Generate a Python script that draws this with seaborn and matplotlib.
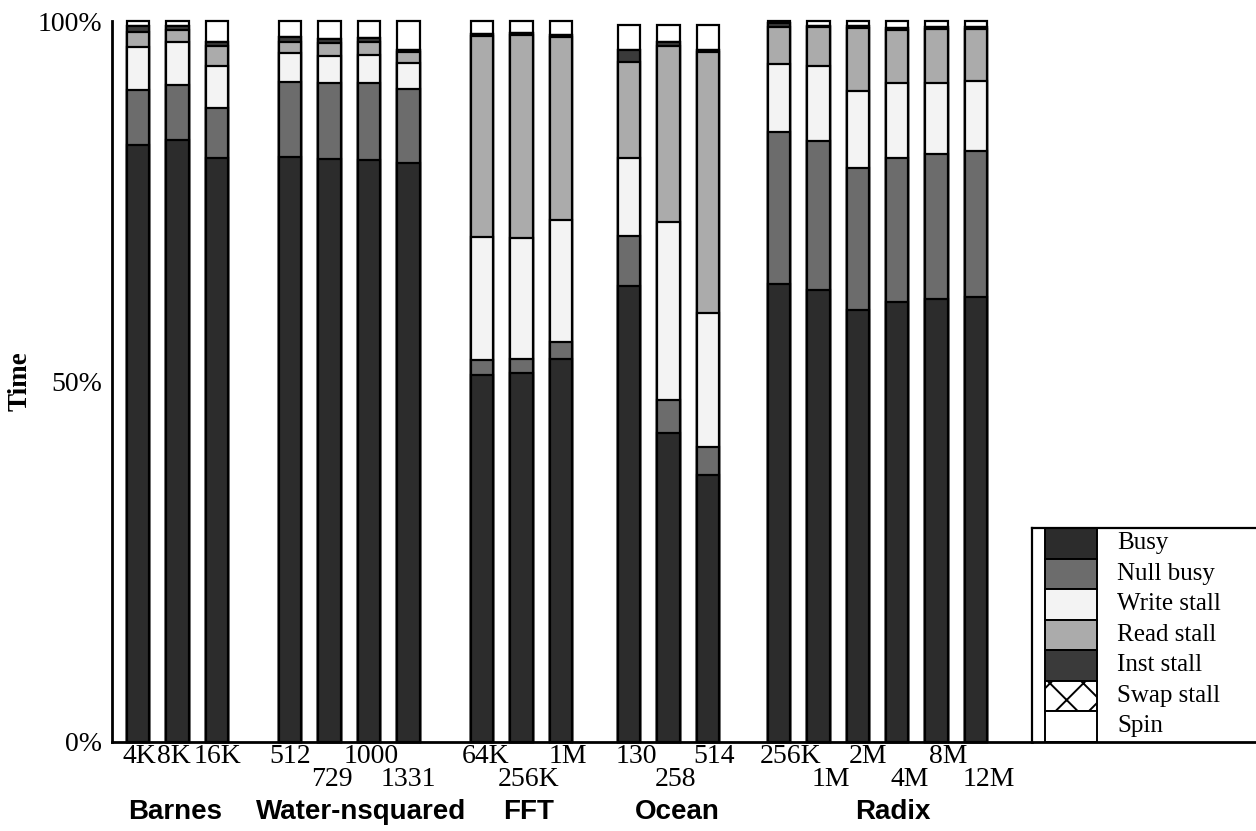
import numpy as np
import matplotlib
matplotlib.use("Agg")
import matplotlib.pyplot as plt
import seaborn as sns

# benchmarks and problem sizes
groups = ["Barnes", "Water-nsquared", "FFT", "Ocean", "Radix"]
group_sizes = [3, 4, 3, 3, 6]
sizes = ["4K", "8K", "16K",
         "512", "729", "1000", "1331",
         "64K", "256K", "1M",
         "130", "258", "514",
         "256K", "1M", "2M", "4M", "8M", "12M"]

# time breakdown in percent, one value per bar
busy = [82.8, 83.5, 81.0, 81.2, 80.9, 80.8, 80.4, 50.9, 51.2, 53.2,
        63.2, 42.8, 37.0, 63.6, 62.7, 60.0, 61.1, 61.4, 61.8]
null_busy = [7.7, 7.7, 7.0, 10.4, 10.5, 10.7, 10.2, 2.1, 2.0, 2.3,
             7.0, 4.6, 3.9, 21.0, 20.7, 19.7, 19.9, 20.2, 20.2]
write_stall = [6.0, 5.9, 5.8, 4.0, 3.8, 3.8, 3.6, 17.1, 16.8, 17.0,
               10.8, 24.8, 18.6, 9.5, 10.4, 10.6, 10.5, 9.8, 9.7]
read_stall = [2.1, 1.7, 2.8, 1.5, 1.8, 1.8, 1.5, 27.9, 28.1, 25.3,
              13.3, 24.4, 36.3, 5.1, 5.4, 8.8, 7.3, 7.5, 7.2]
inst_stall = [0.7, 0.5, 0.6, 0.7, 0.5, 0.6, 0.3, 0.3, 0.3, 0.3,
              1.8, 0.6, 0.2, 0.6, 0.2, 0.3, 0.3, 0.3, 0.3]
swap_stall = [0.0] * 19
spin = [0.7, 0.7, 2.8, 2.2, 2.5, 2.3, 4.0, 1.7, 1.6, 1.9,
        3.4, 2.3, 3.5, 0.2, 0.6, 0.6, 0.9, 0.8, 0.8]

components = ["Busy", "Null busy", "Write stall", "Read stall",
              "Inst stall", "Swap stall", "Spin"]
colors = ["#2c2c2c", "#6c6c6c", "#f3f3f3", "#ababab", "#3a3a3a", "white", "white"]
hatches = [None, None, None, None, None, "x", None]

# which text row each size label sits on, and small horizontal nudges (px)
label_row = [0, 0, 0, 0, 1, 0, 1, 0, 1, 0, 0, 1, 0, 0, 1, 0, 1, 0, 1]
label_nudge = [1, -4, 1, 0, 2, 2, 0, 4, 7, 7, 7, 7, 6, 12, 12, 10, 12, 12, 13]
group_nudge = [-2, 12, 7, 9, 15]

GAPS = [1.86, 1.87, 1.73, 1.81]   # spacing from last bar of a group to first of next
BAR_W = 0.57

sns.set_theme(style="white")
plt.rcParams["font.family"] = ["Liberation Serif", "DejaVu Serif"]
plt.rcParams["hatch.linewidth"] = 1.4
plt.rcParams["hatch.color"] = "black"

# bar positions: unit spacing inside a group, wider gap between groups
pos = []
group_of = []
p = 0.0
for g, n in enumerate(group_sizes):
    pos.extend(p + np.arange(n))
    group_of.extend([g] * n)
    if g < len(GAPS):
        p += n - 1 + GAPS[g]
pos = np.array(pos)
group_of = np.array(group_of)

stack = np.array([busy, null_busy, write_stall, read_stall,
                  inst_stall, swap_stall, spin])
cum = stack.cumsum(axis=0)

fig = plt.figure(figsize=(12.56, 8.31), dpi=100)
ax = fig.add_axes([112 / 1256, 0.1075, 920 / 1256, 0.8667])

# layered stacking: tallest cumulative bar first, each drawn over the last
for i in reversed(range(len(components))):
    kw = {}
    if hatches[i]:
        kw["hatch"] = hatches[i]
    sns.barplot(x=pos, y=cum[i], native_scale=True, orient="x", width=BAR_W,
                color=colors[i], saturation=1, edgecolor="black",
                linewidth=1.6, errorbar=None, ax=ax, **kw)
for patch in ax.patches:
    patch.set_clip_on(False)

ax.set_xlim(-0.66, 22.69)
ax.set_ylim(0, 100)
yt = np.arange(0, 101, 10)
ax.set_yticks(yt)
ax.set_yticklabels([f"{t}%" if t % 50 == 0 else "" for t in yt])
ax.tick_params(axis="y", direction="in", length=6, width=1.3, pad=7,
               labelsize=20, colors="black")

starts = np.cumsum([0] + group_sizes[:-1])
ax.set_xticks(pos[starts] - BAR_W / 2)
ax.set_xticklabels([])
ax.tick_params(axis="x", direction="in", length=4, width=1.2, colors="black")

for side in ["top", "right"]:
    ax.spines[side].set_visible(False)
for side in ["left", "bottom"]:
    ax.spines[side].set_color("black")
    ax.spines[side].set_linewidth(2)

ax.set_xlabel("")
ax.set_ylabel("Time", fontsize=19.5, fontweight="bold", color="black")
ax.yaxis.set_label_coords(-0.086, 0.5)

# size labels under each bar, staggered on two rows
for x, s, r, dx in zip(pos, sizes, label_row, label_nudge):
    ax.annotate(s, xy=(x, 0), xycoords=("data", "axes fraction"),
                xytext=(dx, -15 - 23 * r), textcoords="offset pixels",
                ha="center", va="center", fontsize=20, color="black")

# benchmark names
for g, name in enumerate(groups):
    xc = pos[group_of == g].mean()
    ax.annotate(name, xy=(xc, 0), xycoords=("data", "axes fraction"),
                xytext=(group_nudge[g], -70), textcoords="offset pixels",
                ha="center", va="center", fontsize=20, fontweight="bold",
                family=["Liberation Sans", "DejaVu Sans"], color="black")

# boxed key at the lower right
lax = fig.add_axes([1032 / 1256, 0.1075, 0.2, 0.2571])
lax.set_xlim(0, 251.2)
lax.set_ylim(0, 7)
for i, name in enumerate(components):
    row = len(components) - 1 - i
    kw = {}
    if hatches[i]:
        kw["hatch"] = hatches[i]
    lax.bar(39, 1, width=52, bottom=row, color=colors[i], edgecolor="black",
            linewidth=1.4, **kw)
    lax.text(85, row + 0.5, name, ha="left", va="center", fontsize=18,
             color="black")
lax.set_xticks([])
lax.set_yticks([])
for side in ["left", "top", "bottom"]:
    lax.spines[side].set_color("black")
    lax.spines[side].set_linewidth(1.6)
lax.spines["bottom"].set_linewidth(2)
lax.spines["right"].set_visible(False)
lax.set_facecolor("white")

fig.savefig("out.png", dpi=100, facecolor="white")
